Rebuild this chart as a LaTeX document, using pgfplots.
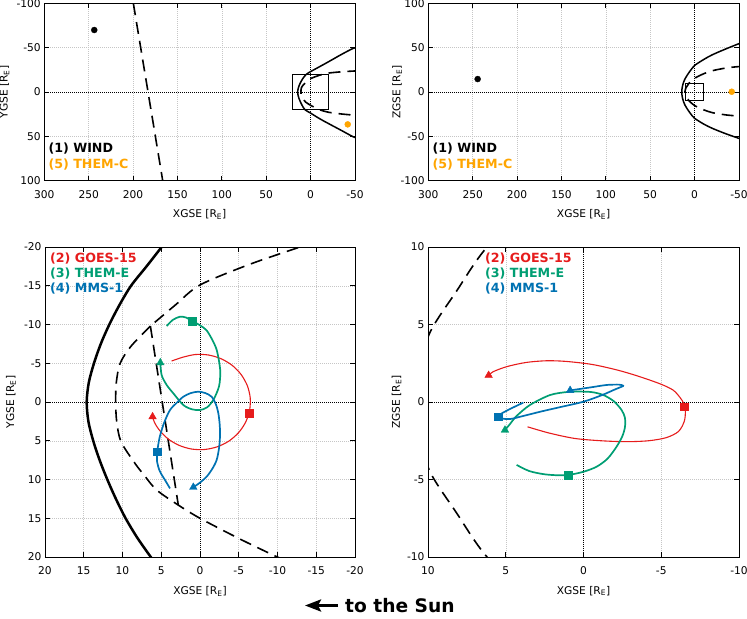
\documentclass[border=0pt]{standalone}
\usepackage{fontspec}
\setmainfont{DejaVu Sans}
\usepackage{pgfplots}
\pgfplotsset{compat=1.18}
\usetikzlibrary{arrows.meta}
\definecolor{cred}{RGB}{230,28,28}
\definecolor{cgreen}{RGB}{0,158,115}
\definecolor{cblue}{RGB}{0,114,178}
\definecolor{corange}{RGB}{255,165,0}
\tikzset{leg/.style={anchor=west, inner sep=0pt, font=\bfseries\fontsize{12.7}{14}\selectfont}}
\pgfplotsset{
  myax/.style={
    scale only axis, anchor=south west, enlargelimits=false,
    axis line style={black, line width=0.8bp},
    tick align=inside, major tick length=5bp,
    tick style={black, line width=0.7bp},
    grid=major, grid style={gray!45, dash pattern=on 1bp off 1bp, line width=0.5bp},
    tick label style={font=\fontsize{10.7}{12}\selectfont},
    xticklabel style={yshift=-6.5bp},
    label style={font=\fontsize{10.7}{12}\selectfont},
    /pgf/number format/assume math mode=true,
    /pgf/number format/1000 sep={},
    x dir=reverse, clip=true,
    xlabel={XGSE [R\textsubscript{E}]},
  },
  zero/.style={black, dash pattern=on 1bp off 1bp, line width=0.8bp},
  bs/.style={black, line width=1.5bp, smooth},
  mp/.style={black, line width=1.6bp, dash pattern=on 12bp off 7bp, smooth},
}
\begin{document}
\begin{tikzpicture}
\useasboundingbox (0,0) rectangle (747bp,-619bp);
% ---------------- top left: XY large
\begin{axis}[myax, at={(44.3bp,-180.7bp)}, width=310.7bp, height=177.4bp,
  xmin=-50, xmax=300, ymin=-100, ymax=100, y dir=reverse,
  xtick={-50,0,...,300}, ytick={-100,-50,...,100},
  ylabel={YGSE [R\textsubscript{E}]},
  xlabel style={at={(axis description cs:0.5,-0.19)}, anchor=center},
  ylabel style={at={(axis description cs:-0.128,0.5)}, anchor=center}]
\addplot[zero] coordinates {(0,-100) (0,100)};
\addplot[zero] coordinates {(-50,0) (300,0)};
\addplot[black, line width=1.6bp, dash pattern=on 12bp off 7bp] coordinates {(199.7,-100) (166.6,100)};
\addplot[bs] coordinates {(-55,-51) (-48,-49.2) (-35,-42.5) (-20,-34) (-10,-28.5) (0,-23) (5,-19.8) (8.9,-15) (11.7,-10) (13.7,-5) (14.6,0) (13.8,5) (12,10) (9.6,15) (6.3,20) (0,23.8) (-10,30) (-20,35.5) (-35,43.5) (-48,50.5) (-55,53)};
\addplot[mp] coordinates {(-55,-24) (-48,-23.6) (-35,-22.8) (-20,-21.3) (-10,-18.9) (0,-15.1) (3.2,-12.5) (6.4,-9.8) (8.9,-7.2) (10.3,-5) (10.8,-2.5) (10.9,0) (10.75,2.5) (10.2,5.1) (8.4,7.9) (5.6,11.35) (2.8,13.3) (0,15) (-5,17.6) (-10,19.96) (-20,22.8) (-35,24.8) (-48,26) (-55,26.5)};
\addplot[black, line width=0.9bp] coordinates {(20,-20) (-20,-20) (-20,20) (20,20) (20,-20)};
\addplot[only marks, mark=*, mark size=3bp, black] coordinates {(243.7,-69.9)};
\addplot[only marks, mark=*, mark size=3bp, corange, mark options={draw=corange}] coordinates {(-41.8,36.5)};
\node[leg, text=black] at (axis description cs:0.013,0.18) {(1) WIND};
\node[leg, text=corange] at (axis description cs:0.013,0.092) {(5) THEM-C};
\end{axis}
% ---------------- top right: XZ large
\begin{axis}[myax, at={(428.3bp,-180.7bp)}, width=310.7bp, height=177.4bp,
  xmin=-50, xmax=300, ymin=-100, ymax=100,
  xtick={-50,0,...,300}, ytick={-100,-50,...,100},
  ylabel={ZGSE [R\textsubscript{E}]},
  xlabel style={at={(axis description cs:0.5,-0.19)}, anchor=center},
  ylabel style={at={(axis description cs:-0.10,0.5)}, anchor=center}]
\addplot[zero] coordinates {(0,-100) (0,100)};
\addplot[zero] coordinates {(-50,0) (300,0)};
\addplot[bs] coordinates {(-55,56) (-50,54.5) (-35,48.5) (-20,42) (-10,36.5) (0,30) (3,26.5) (7,21) (11,14.5) (13.5,7.5) (14.5,0) (13.5,-7.5) (11,-14.5) (7,-21) (3,-26.5) (0,-29.7) (-10,-36) (-20,-41) (-35,-47) (-50,-52.3) (-55,-54)};
\addplot[mp] coordinates {(-55,28.8) (-48,28.5) (-35,27) (-20,24) (-10,20.5) (0,15.5) (3,13) (6.2,10) (8.2,7.1) (9.87,4.5) (10.6,2) (10.9,0) (10.6,-2) (9.87,-4.5) (8.2,-7.1) (6.2,-10) (3,-13) (0,-15.3) (-10,-20) (-20,-23.3) (-35,-25.8) (-48,-27) (-55,-27.5)};
\addplot[black, line width=0.9bp] coordinates {(10,-10) (-10,-10) (-10,10) (10,10) (10,-10)};
\addplot[only marks, mark=*, mark size=3bp, black] coordinates {(244.4,14.6)};
\addplot[only marks, mark=*, mark size=3bp, corange, mark options={draw=corange}] coordinates {(-41.8,0.3)};
\node[leg, text=black] at (axis description cs:0.013,0.18) {(1) WIND};
\node[leg, text=corange] at (axis description cs:0.013,0.092) {(5) THEM-C};
\end{axis}
% ---------------- bottom left: XY zoom
\begin{axis}[myax, at={(45bp,-557bp)}, width=310bp, height=310bp,
  xmin=-20, xmax=20, ymin=-20, ymax=20, y dir=reverse,
  xtick={-20,-15,...,20}, ytick={-20,-15,...,20},
  ylabel={YGSE [R\textsubscript{E}]},
  xlabel style={at={(axis description cs:0.5,-0.11)}, anchor=center},
  ylabel style={at={(axis description cs:-0.11,0.5)}, anchor=center}]
\addplot[zero] coordinates {(0,-20) (0,20)};
\addplot[zero] coordinates {(-20,0) (20,0)};
\addplot[black, line width=2.5bp, smooth] coordinates {(4.2,-21) (4.95,-20) (6.9,-17.5) (8.9,-15) (10.4,-12.5) (11.7,-10) (12.8,-7.5) (13.68,-5) (14.35,-2.5) (14.62,0) (14.4,2.5) (13.78,5) (12.95,7.5) (11.96,10) (10.85,12.5) (9.6,15) (8.1,17.5) (6.35,20) (5.6,21)};
\addplot[mp] coordinates {(-15,-20.7) (-13.1,-20.06) (-6.5,-17.8) (0,-15.1) (3.2,-12.5) (6.4,-9.8)};
\addplot[mp] coordinates {(6.4,-9.8) (8.9,-7.2) (10.3,-5) (10.8,-2.5) (10.88,0) (10.75,2.5) (10.2,5.1) (8.4,7.9) (7.2,9.45) (5.6,11.35) (2.8,13.3) (0,15) (-5,17.6) (-9.9,19.96) (-12,20.8)};
\addplot[black, line width=1.6bp, dash pattern=on 12bp off 7bp] coordinates {(6.4,-9.8) (2.8,13.3)};
% GOES-15
\addplot[cred, line width=1.1bp, smooth] coordinates {(3.66,-5.29) (2.22,-5.78) (0.57,-6.13) (-1.13,-6.06) (-2.75,-5.57) (-4.18,-4.71) (-5.32,-3.53) (-6.11,-2.10) (-6.48,-0.54) (-6.40,1.07) (-5.89,2.60) (-4.98,3.95) (-3.73,5.04) (-2.22,5.78) (-0.57,6.13) (1.13,6.06) (2.75,5.57) (4.18,4.71) (5.32,3.53) (5.89,2.60) (6.12,1.9)};
% THEMIS-E
\addplot[cgreen, line width=1.7bp, smooth] coordinates {(4.30,-9.8) (3.5,-10.6) (2.6,-11.0) (1.8,-10.9) (1.0,-10.45) (0.0,-9.9) (-0.85,-9.25) (-1.6,-8.0) (-2.13,-6.8) (-2.45,-5.3) (-2.62,-3.8) (-2.45,-2.0) (-1.72,-0.26) (-0.9,0.7) (0.0,1.03) (1.0,0.95) (2.15,0.39) (3.44,-1.12) (4.3,-2.2) (4.95,-3.48) (5.12,-5.07)};
% MMS-1
\addplot[cblue, line width=1.7bp, smooth] coordinates {(3.87,11.15) (4.52,10.06) (5.2,8.9) (5.55,7.6) (5.51,6.41) (5.3,5.0) (5.07,4.04) (4.6,2.6) (3.87,1.03) (3.0,0.1) (2.16,-0.68) (1.2,-1.15) (0.22,-1.33) (-0.7,-1.15) (-1.5,-0.68) (-2.05,0.3) (-2.37,1.46) (-2.55,3.0) (-2.58,4.47) (-2.45,6.0) (-2.15,7.48) (-1.6,8.6) (-0.86,9.63) (0.0,10.4) (0.86,11.0)};
\addplot[only marks, mark=square*, mark size=3.9bp, cred] coordinates {(-6.36,1.46)};
\addplot[only marks, mark=triangle*, mark size=4.4bp, cred] coordinates {(6.12,1.9)};
\addplot[only marks, mark=square*, mark size=3.9bp, cgreen] coordinates {(1.0,-10.45)};
\addplot[only marks, mark=triangle*, mark size=4.4bp, cgreen] coordinates {(5.12,-5.07)};
\addplot[only marks, mark=square*, mark size=3.9bp, cblue] coordinates {(5.51,6.41)};
\addplot[only marks, mark=triangle*, mark size=4.4bp, cblue] coordinates {(0.86,11.0)};
\node[leg, text=cred] at (axis description cs:0.016,0.963) {(2) GOES-15};
\node[leg, text=cgreen] at (axis description cs:0.016,0.914) {(3) THEM-E};
\node[leg, text=cblue] at (axis description cs:0.016,0.866) {(4) MMS-1};
\end{axis}
% ---------------- bottom right: XZ zoom
\begin{axis}[myax, at={(428bp,-557bp)}, width=311bp, height=310bp,
  xmin=-10, xmax=10, ymin=-10, ymax=10,
  xtick={-10,-5,...,10}, ytick={-10,-5,...,10},
  ylabel={ZGSE [R\textsubscript{E}]},
  xlabel style={at={(axis description cs:0.5,-0.11)}, anchor=center},
  ylabel style={at={(axis description cs:-0.101,0.5)}, anchor=center}]
\addplot[zero] coordinates {(0,-10) (0,10)};
\addplot[zero] coordinates {(-10,0) (10,0)};
\addplot[mp] coordinates {(0,15.5) (3,13) (6.2,10) (8.2,7.1) (9.87,4.5) (10.6,2) (10.9,0) (10.6,-2) (9.87,-4.5) (8.2,-7.1) (6.2,-10) (3,-13) (0,-15.3)};
% GOES-15
\addplot[cred, line width=1.1bp, smooth] coordinates {(3.6,-1.6) (2.22,-2.0) (0.57,-2.35) (-1.13,-2.5) (-2.75,-2.56) (-4.18,-2.5) (-5.32,-2.3) (-6.11,-1.9) (-6.48,-1.25) (-6.55,-0.6) (-6.45,-0.1) (-6.2,0.3) (-5.76,0.77) (-4.98,1.15) (-3.63,1.63) (-2.22,2.05) (-0.57,2.42) (1.13,2.62) (2.4,2.66) (3.7,2.55) (4.94,2.28) (5.82,1.95) (6.1,1.72)};
% THEMIS-E
\addplot[cgreen, line width=1.7bp, smooth] coordinates {(4.30,-4.06) (3.5,-4.45) (2.6,-4.65) (1.8,-4.72) (1.0,-4.71) (0.0,-4.5) (-0.85,-4.17) (-1.55,-3.65) (-2.13,-2.88) (-2.5,-2.2) (-2.67,-1.59) (-2.66,-1.0) (-2.45,-0.52) (-1.95,0.05) (-1.28,0.45) (-0.6,0.63) (0.0,0.67) (1.0,0.65) (2.15,0.45) (3.44,-0.19) (4.3,-0.9) (4.75,-1.45) (5.05,-1.81)};
% MMS-1
\addplot[cblue, line width=1.7bp, smooth] coordinates {(3.87,-0.04) (4.52,-0.35) (5.2,-0.7) (5.5,-0.92) (5.3,-1.05) (4.73,-1.1) (3.87,-0.9) (2.8,-0.63) (1.5,-0.33) (0.0,0.02) (-1.2,0.45) (-2.0,0.8) (-2.46,0.99) (-2.55,1.05) (-2.3,1.12) (-1.5,1.1) (-0.5,0.95) (0.86,0.75)};
\addplot[only marks, mark=square*, mark size=3.9bp, cred] coordinates {(-6.5,-0.3)};
\addplot[only marks, mark=triangle*, mark size=4.4bp, cred] coordinates {(6.1,1.72)};
\addplot[only marks, mark=square*, mark size=3.9bp, cgreen] coordinates {(0.97,-4.71)};
\addplot[only marks, mark=triangle*, mark size=4.4bp, cgreen] coordinates {(5.05,-1.81)};
\addplot[only marks, mark=square*, mark size=3.9bp, cblue] coordinates {(5.5,-0.95)};
\addplot[only marks, mark=triangle*, mark size=4.4bp, cblue] coordinates {(0.86,0.75)};
\node[leg, text=cred] at (axis description cs:0.183,0.963) {(2) GOES-15};
\node[leg, text=cgreen] at (axis description cs:0.183,0.914) {(3) THEM-E};
\node[leg, text=cblue] at (axis description cs:0.183,0.866) {(4) MMS-1};
\end{axis}
% ---------------- arrow annotation
\draw[line width=3bp, -{Stealth[length=16bp, width=12bp, inset=3bp]}] (338bp,-605.5bp) -- (305bp,-605.5bp);
\node[anchor=base west, inner sep=0pt, font=\bfseries\fontsize{18.7}{20}\selectfont] at (345bp,-612.5bp) {to the Sun};
\end{tikzpicture}
\end{document}
